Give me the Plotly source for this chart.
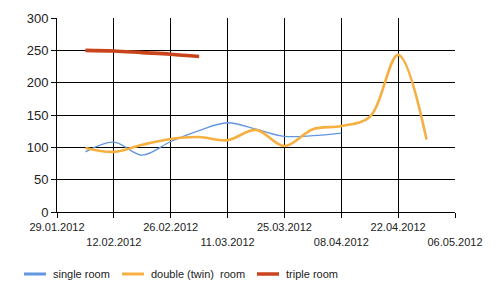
import plotly.graph_objects as go

# ---- data ----
single_dates = ["2012-02-05", "2012-02-12", "2012-02-19", "2012-02-26", "2012-03-04",
                "2012-03-11", "2012-03-18", "2012-03-25", "2012-04-01", "2012-04-08"]
single_vals = [93, 108, 88, 109, 126, 138, 128, 117, 118, 122]

double_dates = ["2012-02-05", "2012-02-12", "2012-02-19", "2012-02-26", "2012-03-04",
                "2012-03-11", "2012-03-18", "2012-03-25", "2012-04-01", "2012-04-08",
                "2012-04-15", "2012-04-22", "2012-04-29"]
double_vals = [99, 93, 104, 113, 116, 111, 127, 102, 128, 133, 147, 243, 112]

triple_dates = ["2012-02-05", "2012-02-12", "2012-02-19", "2012-02-26", "2012-03-04"]
triple_vals = [250, 249, 246.5, 244, 240.5]

tick_dates = ["2012-01-29", "2012-02-12", "2012-02-26", "2012-03-11",
              "2012-03-25", "2012-04-08", "2012-04-22", "2012-05-06"]
tick_labels = ["29.01.2012", "12.02.2012", "26.02.2012", "11.03.2012",
               "25.03.2012", "08.04.2012", "22.04.2012", "06.05.2012"]

series_names = ["single room", "double (twin)\u00a0 room", "triple room"]
series_colors = ["#6396DF", "#F5B041", "#C9431C"]
series_widths = [1.3, 2.6, 3.6]

# ---- figure ----
fig = go.Figure()
for d, v, c, w in [(single_dates, single_vals, series_colors[0], series_widths[0]),
                   (double_dates, double_vals, series_colors[1], series_widths[1]),
                   (triple_dates, triple_vals, series_colors[2], series_widths[2])]:
    fig.add_trace(go.Scatter(x=d, y=v, mode="lines",
                             line=dict(color=c, width=w, shape="spline", smoothing=1),
                             showlegend=False, hoverinfo="skip"))

staggered = [t if i % 2 == 0 else "<br>" + t for i, t in enumerate(tick_labels)]

L, R, T, B = 57, 45, 18, 84
W, H = 500, 296
pw, ph = W - L - R, H - T - B

fig.update_layout(
    width=W, height=H,
    margin=dict(l=L, r=R, t=T, b=B, autoexpand=False),
    paper_bgcolor="white", plot_bgcolor="white",
    font=dict(family="Arial, Liberation Sans, sans-serif", color="#222222"),
    xaxis=dict(
        type="date", range=[tick_dates[0], tick_dates[-1]],
        tickmode="array", tickvals=tick_dates, ticktext=staggered,
        tickangle=0,
        showgrid=True, gridcolor="black", gridwidth=1,
        showline=True, linecolor="black", linewidth=1,
        ticks="outside", ticklen=5, tickcolor="black",
        tickfont=dict(size=11, color="#222222"),
        zeroline=False, fixedrange=True,
    ),
    yaxis=dict(
        range=[0, 300], tickmode="linear", tick0=0, dtick=50,
        showgrid=True, gridcolor="black", gridwidth=1,
        showline=True, linecolor="black", linewidth=1,
        ticks="outside", ticklen=5, tickcolor="black",
        tickfont=dict(size=13, color="#222222"),
        zeroline=False, fixedrange=True,
    ),
)

# ---- manual legend ----
def px_x(p):
    return (p - L) / pw

def px_y(p):
    return (H - B - p) / ph

legend_y = 274
line_starts = [24, 122, 257]
text_starts = [51, 149, 284]
for name, c, x0, tx in zip(series_names, series_colors, line_starts, text_starts):
    fig.add_shape(type="line", xref="paper", yref="paper",
                  x0=px_x(x0), x1=px_x(x0 + 22), y0=px_y(legend_y), y1=px_y(legend_y),
                  line=dict(color=c, width=3 if c != series_colors[2] else 3.5))
    fig.add_annotation(xref="paper", yref="paper", x=px_x(tx), y=px_y(legend_y),
                       text=name, showarrow=False, xanchor="left", yanchor="middle",
                       font=dict(size=11, color="#222222"))

fig.write_html("out.html")
